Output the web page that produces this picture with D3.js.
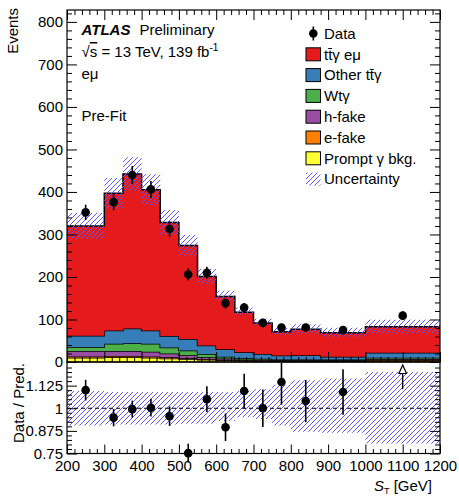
<!DOCTYPE html>
<html>
<head>
<meta charset="utf-8">
<script src="https://cdn.jsdelivr.net/npm/d3@7"></script>
<style>
  body { margin: 0; background: #fff; }
  text { font-family: "Liberation Sans", Arial, Helvetica, sans-serif; fill: #000; }
</style>
</head>
<body>
<div id="chart"></div>
<script>
// S_T distribution, e-mu channel, pre-fit

const edges = [200, 300, 350, 400, 450, 500, 550, 600, 650, 700, 750, 800, 880, 1000, 1200];

// stacked backgrounds, bottom -> top
const prompt   = [10, 11, 11, 10, 8, 7, 5, 4, 3, 2.5, 2, 2, 2, 3];
const eFake    = [3, 3, 3, 3, 3, 2, 2, 1.5, 1, 1, 1, 1, 1, 1.5];
const hFake    = [13, 12, 12, 11, 9, 7, 4, 3, 2, 2, 1.5, 1.5, 1.5, 2.5];
const wty      = [9, 17, 18, 19, 14, 11, 8, 4, 3, 2, 1.5, 1.5, 1.5, 3];
const otherTty = [27, 31, 35, 31, 27, 27, 20, 17.5, 14, 11.5, 9, 10, 6.5, 12];
const ttyEmu   = [258, 323, 363, 331, 267, 220, 162, 124, 94, 73, 56, 61, 56.5, 61];

const dataCounts = [352, 376, 440, 406, 313, 206, 210, 138, 128, 92, 81, 81, 75, 109];
const dataErr    = [18, 19, 21, 20, 18, 14, 14, 12, 11, 10, 9, 9, 9, 10];

// data / prediction
const ratio    = [1.10, 0.948, 0.995, 1.003, 0.956, 0.752, 1.05, 0.895, 1.095, 1.0, 1.145, 1.04, 1.09, 1.31];
const ratioErr = [0.057, 0.048, 0.047, 0.049, 0.054, 0.052, 0.071, 0.076, 0.096, 0.104, 0.125, 0.117, 0.126, 0.127];

// relative uncertainty band
const uncUp = [1.095, 1.09, 1.09, 1.09, 1.09, 1.09, 1.09, 1.09, 1.095, 1.105, 1.13, 1.155, 1.165, 1.2];
const uncDn = [0.905, 0.91, 0.91, 0.91, 0.91, 0.915, 0.915, 0.93, 0.95, 0.94, 0.905, 0.87, 0.865, 0.805];

const xTicks = d3.range(200, 1201, 100);
const yTicks = d3.range(0, 801, 100);
const rTicks = [0.75, 0.875, 1, 1.125];
const rTickLabels = ["0.75", "0.875", "1", "1.125"];

const samples = [
  { key: "ttyEmu", label: "tt\u0304\u03b3 e\u03bc", color: "#e41a1c", vals: ttyEmu },
  { key: "otherTty", label: "Other tt\u0304\u03b3", color: "#377eb8", vals: otherTty },
  { key: "wty", label: "Wt\u03b3", color: "#4daf4a", vals: wty },
  { key: "hFake", label: "h-fake", color: "#984ea3", vals: hFake },
  { key: "eFake", label: "e-fake", color: "#ff7f00", vals: eFake },
  { key: "prompt", label: "Prompt  \u03b3 bkg.", color: "#ffff33", vals: prompt }
];

const width = 459, height = 497;
const padL = 67, padR = 440, padT = 10, padMid = 362, padB = 453.5;
const font = 15;

const x = d3.scaleLinear().domain([200, 1200]).range([padL, padR]);
const y = d3.scaleLinear().domain([0, 828]).range([padMid, padT]);
const yr = d3.scaleLinear().domain([0.75, 1.25]).range([padB, padMid + 1]);

const svg = d3.select("#chart").append("svg")
  .attr("width", width).attr("height", height);

const defs = svg.append("defs");
defs.append("pattern")
  .attr("id", "hatch").attr("patternUnits", "userSpaceOnUse")
  .attr("width", 5).attr("height", 5)
  .append("path")
  .attr("d", "M-1,1 l2,-2 M0,5 l5,-5 M4,6 l2,-2")
  .attr("stroke", "#5c5cf2").attr("stroke-width", 1);

// ---- stack
const rows = edges.slice(0, -1).map(function (lo, i) {
  let r = { lo: lo, hi: edges[i + 1] };
  samples.forEach(function (s) { r[s.key] = s.vals[i]; });
  return r;
});
const order = samples.map(s => s.key).reverse();
const stacked = d3.stack().keys(order)(rows);
const total = stacked[stacked.length - 1].map(d => d[1]);

function steps(arr) {
  let pts = [];
  arr.forEach(function (d, i) {
    pts.push({ x: edges[i], y0: d[0], y1: d[1] });
    pts.push({ x: edges[i + 1], y0: d[0], y1: d[1] });
  });
  return pts;
}

const area = d3.area().x(d => x(d.x)).y0(d => y(d.y0)).y1(d => y(d.y1));
const topLine = d3.line().x(d => x(d.x)).y(d => y(d.y1));

const upper = svg.append("g");
stacked.forEach(function (layer) {
  let s = samples.find(t => t.key === layer.key);
  let pts = steps(layer);
  upper.append("path").attr("d", area(pts)).attr("fill", s.color);
  upper.append("path").attr("d", topLine(pts))
    .attr("fill", "none").attr("stroke", "#000").attr("stroke-width", 1.5);
});

// uncertainty band, upper
const bandPts = steps(total.map((t, i) => [t * uncDn[i], t * uncUp[i]]));
upper.append("path").attr("d", area(bandPts)).attr("fill", "url(#hatch)");

// data points
const centers = edges.slice(0, -1).map((lo, i) => (lo + edges[i + 1]) / 2);
upper.selectAll(".err").data(dataCounts).enter().append("line")
  .attr("x1", (d, i) => x(centers[i])).attr("x2", (d, i) => x(centers[i]))
  .attr("y1", (d, i) => y(d - dataErr[i])).attr("y2", (d, i) => y(d + dataErr[i]))
  .attr("stroke", "#000").attr("stroke-width", 1.6);
upper.selectAll(".pt").data(dataCounts).enter().append("circle")
  .attr("cx", (d, i) => x(centers[i])).attr("cy", d => y(d))
  .attr("r", 4.3).attr("fill", "#000");

// ---- ratio panel
const lower = svg.append("g");
const rArea = d3.area().x(d => x(d.x)).y0(d => yr(d.y0)).y1(d => yr(d.y1));
const rBand = steps(uncUp.map((u, i) => [uncDn[i], u]));
lower.append("path").attr("d", rArea(rBand)).attr("fill", "url(#hatch)");
lower.append("line")
  .attr("x1", padL).attr("x2", padR).attr("y1", yr(1)).attr("y2", yr(1))
  .attr("stroke", "#000").attr("stroke-width", 1).attr("stroke-dasharray", "4,3");

const inRange = ratio.map((r, i) => ({ r: r, e: ratioErr[i], c: centers[i] }));
inRange.forEach(function (d) {
  if (d.r <= 1.25) {
    lower.append("line")
      .attr("x1", x(d.c)).attr("x2", x(d.c))
      .attr("y1", yr(d.r - d.e)).attr("y2", Math.max(yr(d.r + d.e), padMid + 1))
      .attr("stroke", "#000").attr("stroke-width", 1.6);
    lower.append("circle").attr("cx", x(d.c)).attr("cy", yr(d.r))
      .attr("r", 4.3).attr("fill", "#000");
  } else {
    // off-scale: open arrow pointing up
    let ax = x(d.c), tip = padMid + 3;
    lower.append("line").attr("x1", ax).attr("x2", ax)
      .attr("y1", tip + 8).attr("y2", tip + 24)
      .attr("stroke", "#000").attr("stroke-width", 1.3);
    lower.append("path")
      .attr("d", "M" + ax + "," + tip + " L" + (ax - 3.8) + "," + (tip + 8.5) + " L" + (ax + 3.8) + "," + (tip + 8.5) + " Z")
      .attr("fill", "#fff").attr("stroke", "#000").attr("stroke-width", 1.2);
  }
});

// ---- axes (ticks inside the frame)
function drawAxis(g, axis) {
  g.call(axis);
  g.select(".domain").remove();
  g.attr("font-size", font).attr("font-family", null);
  return g;
}
const xMinor = d3.range(200, 1201, 20).filter(v => v % 100 !== 0);
const yMinor = d3.range(0, 828, 20).filter(v => v % 100 !== 0);
const rMinor = d3.range(0.75, 1.2501, 0.025).filter(v => Math.abs(v * 8 - Math.round(v * 8)) > 1e-6);

// upper pad
drawAxis(svg.append("g").attr("transform", "translate(" + padL + ",0)"),
  d3.axisLeft(y).tickValues(yTicks).tickSize(-10).tickPadding(4).tickFormat(d3.format("d")));
drawAxis(svg.append("g").attr("transform", "translate(" + padL + ",0)"),
  d3.axisLeft(y).tickValues(yMinor).tickSize(-5).tickFormat(""));
drawAxis(svg.append("g").attr("transform", "translate(" + padR + ",0)"),
  d3.axisRight(y).tickValues(yTicks).tickSize(-10).tickFormat(""));
drawAxis(svg.append("g").attr("transform", "translate(" + padR + ",0)"),
  d3.axisRight(y).tickValues(yMinor).tickSize(-5).tickFormat(""));
drawAxis(svg.append("g").attr("transform", "translate(0," + padT + ")"),
  d3.axisTop(x).tickValues(xTicks).tickSize(-10).tickFormat(""));
drawAxis(svg.append("g").attr("transform", "translate(0," + padT + ")"),
  d3.axisTop(x).tickValues(xMinor).tickSize(-5).tickFormat(""));
drawAxis(svg.append("g").attr("transform", "translate(0," + padMid + ")"),
  d3.axisBottom(x).tickValues(xTicks).tickSize(-10).tickFormat(""));
drawAxis(svg.append("g").attr("transform", "translate(0," + padMid + ")"),
  d3.axisBottom(x).tickValues(xMinor).tickSize(-5).tickFormat(""));

// ratio pad
drawAxis(svg.append("g").attr("transform", "translate(" + padL + ",0)"),
  d3.axisLeft(yr).tickValues(rTicks).tickSize(-10).tickPadding(4).tickFormat((d, i) => rTickLabels[i]));
drawAxis(svg.append("g").attr("transform", "translate(" + padL + ",0)"),
  d3.axisLeft(yr).tickValues(rMinor).tickSize(-5).tickFormat(""));
drawAxis(svg.append("g").attr("transform", "translate(" + padR + ",0)"),
  d3.axisRight(yr).tickValues(rTicks).tickSize(-10).tickFormat(""));
drawAxis(svg.append("g").attr("transform", "translate(" + padR + ",0)"),
  d3.axisRight(yr).tickValues(rMinor).tickSize(-5).tickFormat(""));
drawAxis(svg.append("g").attr("transform", "translate(0," + padB + ")"),
  d3.axisBottom(x).tickValues(xTicks).tickSize(-9).tickPadding(6.5).tickFormat(d3.format("d")));
drawAxis(svg.append("g").attr("transform", "translate(0," + padB + ")"),
  d3.axisBottom(x).tickValues(xMinor).tickSize(-4.5).tickFormat(""));

// frames
svg.append("rect").attr("x", padL).attr("y", padT).attr("width", padR - padL).attr("height", padMid - padT)
  .attr("fill", "none").attr("stroke", "#000").attr("stroke-width", 1.2);
svg.append("rect").attr("x", padL).attr("y", padMid).attr("width", padR - padL).attr("height", padB - padMid)
  .attr("fill", "none").attr("stroke", "#000").attr("stroke-width", 1.2);

// axis titles
svg.append("text").attr("transform", "translate(18,8) rotate(-90)")
  .attr("text-anchor", "end").attr("font-size", font).text("Events");
svg.append("text").attr("transform", "translate(24,403) rotate(-90)")
  .attr("text-anchor", "middle").attr("font-size", font).text("Data / Pred.");
let xt = svg.append("text").attr("x", 432).attr("y", 491)
  .attr("text-anchor", "end").attr("font-size", font);
xt.append("tspan").attr("font-style", "italic").text("S");
xt.append("tspan").attr("font-size", 9).attr("dy", 3).text("T");
xt.append("tspan").attr("dy", -3).text(" [GeV]");

// labels
let atl = svg.append("text").attr("x", 81.5).attr("y", 35).attr("font-size", font);
atl.append("tspan").attr("font-weight", "bold").attr("font-style", "italic").text("ATLAS");
atl.append("tspan").attr("dx", 9).text("Preliminary");
let lumi = svg.append("text").attr("x", 81.5).attr("y", 57).attr("font-size", font);
lumi.append("tspan").text("\u221a");
lumi.append("tspan").style("text-decoration", "overline").text("s");
lumi.append("tspan").text(" = 13 TeV, 139 fb");
lumi.append("tspan").attr("font-size", 10).attr("dy", -6).text("-1");
svg.append("text").attr("x", 81.5).attr("y", 79).attr("font-size", font).text("e\u03bc");
svg.append("text").attr("x", 81.5).attr("y", 121).attr("font-size", font).text("Pre-Fit");

// legend
const leg = svg.append("g");
const legX = 306, legY0 = 33.5, legStep = 20.8;
leg.append("line").attr("x1", legX + 7.3).attr("x2", legX + 7.3)
  .attr("y1", legY0 - 7).attr("y2", legY0 + 7).attr("stroke", "#000").attr("stroke-width", 1.6);
leg.append("circle").attr("cx", legX + 7.3).attr("cy", legY0).attr("r", 4.3).attr("fill", "#000");
leg.append("text").attr("x", 324).attr("y", legY0).attr("dy", "0.35em").attr("font-size", font).text("Data");
samples.forEach(function (s, i) {
  let cy = legY0 + legStep * (i + 1);
  leg.append("rect").attr("x", legX).attr("y", cy - 6.5).attr("width", 14.5).attr("height", 13)
    .attr("fill", s.color).attr("stroke", "#000").attr("stroke-width", 1);
  leg.append("text").attr("x", 324).attr("y", cy).attr("dy", "0.35em").attr("font-size", font).text(s.label);
});
let uy = legY0 + legStep * 7;
leg.append("rect").attr("x", legX).attr("y", uy - 6.5).attr("width", 14.5).attr("height", 13)
  .attr("fill", "url(#hatch)");
leg.append("text").attr("x", 324).attr("y", uy).attr("dy", "0.35em").attr("font-size", font).text("Uncertainty");
</script>
</body>
</html>
